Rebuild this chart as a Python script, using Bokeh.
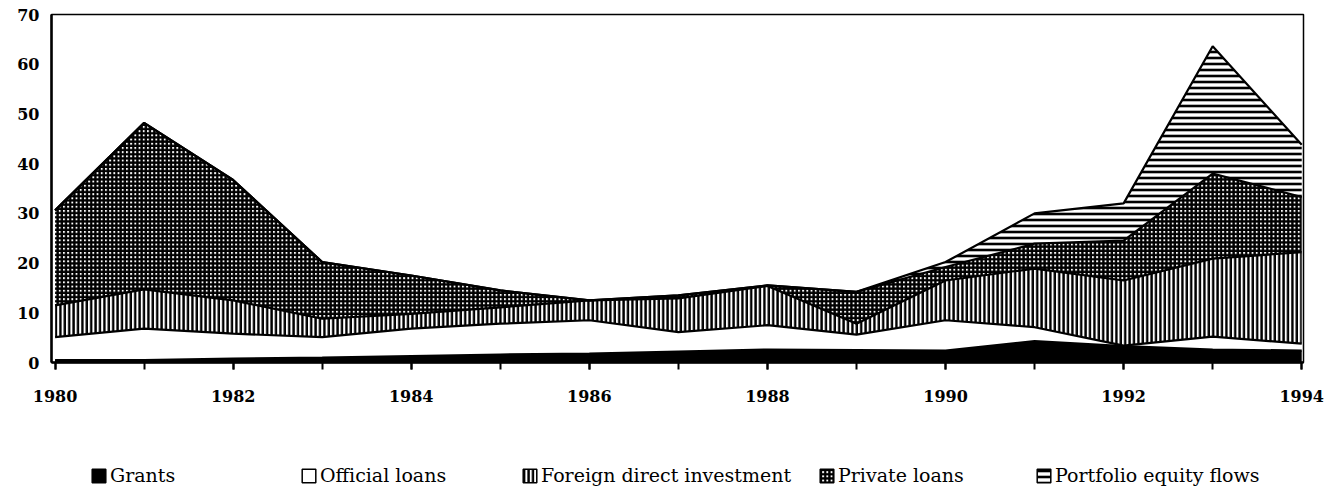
import numpy as np
from bokeh.plotting import figure
from bokeh.models import ColumnDataSource, Legend, LegendItem, FixedTicker, Range1d
from bokeh.layouts import column
from bokeh.transform import stack
from bokeh.embed import file_html
from bokeh.resources import INLINE

years = list(range(1980, 1995))
grants = [0.5, 0.5, 0.8, 1.0, 1.3, 1.6, 1.8, 2.2, 2.6, 2.5, 2.4, 4.3, 3.3, 2.6, 2.4]
official = [4.6, 6.3, 5.0, 4.1, 5.5, 6.2, 6.7, 3.9, 4.9, 3.1, 6.1, 2.8, 0.1, 2.6, 1.4]
fdi = [6.4, 7.9, 6.7, 3.7, 3.0, 3.3, 4.0, 6.8, 7.9, 2.2, 8.0, 11.8, 13.1, 15.7, 18.4]
private = [19.1, 33.5, 24.2, 11.4, 7.7, 3.4, 0.0, 0.6, 0.1, 6.4, 2.7, 5.0, 8.0, 17.1, 11.1]
portfolio = [0, 0, 0, 0, 0, 0, 0, 0, 0, 0, 1.0, 6.1, 7.5, 25.6, 10.5]

series_names = ["Grants", "Official loans", "Foreign direct investment",
                "Private loans", "Portfolio equity flows"]
y_ticks = [0, 10, 20, 30, 40, 50, 60, 70]
x_ticks = [1980, 1982, 1984, 1986, 1988, 1990, 1992, 1994]

keys = ["grants", "official", "fdi", "private", "portfolio"]
src = ColumnDataSource(dict(year=years, grants=grants, official=official,
                            fdi=fdi, private=private, portfolio=portfolio))

BL, BR = 51, 37
p = figure(width=1340, height=430, x_range=Range1d(1979.96, 1994.02), y_range=Range1d(0, 70),
           output_backend="svg", toolbar_location=None,
           min_border_left=BL, min_border_right=BR, min_border_top=14, min_border_bottom=68)

styles = [
    dict(fill_color="black"),
    dict(fill_color="white"),
    dict(fill_color="white", hatch_pattern="vertical_line", hatch_color="black",
         hatch_scale=4.4, hatch_weight=2.4),
    dict(fill_color="white", hatch_pattern="cross", hatch_color="black",
         hatch_scale=4.2, hatch_weight=2.5),
    dict(fill_color="white", hatch_pattern="horizontal_line", hatch_color="black",
         hatch_scale=6, hatch_weight=2.6),
]

for i, k in enumerate(keys):
    y1 = 0 if i == 0 else stack(*keys[:i])
    p.varea(x="year", y1=y1, y2=stack(*keys[:i + 1]), source=src, **styles[i])

for i, k in enumerate(keys):
    p.line(x="year", y=stack(*keys[:i + 1]), source=src, line_color="black", line_width=2.2)

p.grid.visible = False
p.outline_line_color = "black"
p.outline_line_width = 1.5

font = "DejaVu Serif"
p.xaxis.ticker = FixedTicker(ticks=x_ticks, minor_ticks=years)
p.xaxis.major_tick_out = 7
p.xaxis.minor_tick_out = 7
p.xaxis.major_tick_in = 0
p.xaxis.minor_tick_in = 0
p.xaxis.major_tick_line_width = 2
p.xaxis.minor_tick_line_width = 2
p.xaxis.major_tick_line_color = "black"
p.xaxis.minor_tick_line_color = "black"
p.xaxis.axis_line_width = 2.5
p.xaxis.axis_line_color = "black"
p.xaxis.major_label_standoff = 20

p.yaxis.ticker = FixedTicker(ticks=y_ticks)
p.yaxis.major_tick_out = 0
p.yaxis.major_tick_in = 0
p.yaxis.minor_tick_line_color = None
p.yaxis.axis_line_width = 2.5
p.yaxis.axis_line_color = "black"
p.yaxis.major_label_standoff = 12

for ax in (p.xaxis, p.yaxis):
    ax.major_label_text_font = font
    ax.major_label_text_font_style = "bold"
    ax.major_label_text_font_size = "16px"
    ax.major_label_text_color = "black"

# legend strip below the chart
p2 = figure(width=1340, height=60, x_range=Range1d(0, 1), y_range=Range1d(0, 1),
            output_backend="svg", toolbar_location=None,
            min_border_left=BL, min_border_right=BR, min_border_top=0, min_border_bottom=0,
            x_axis_type=None, y_axis_type=None, outline_line_color=None)
p2.grid.visible = False

leg_x = [90, 300, 521, 818, 1035]
nan = np.array([np.nan])
for i, name in enumerate(series_names):
    r = p2.quad(left=nan, right=nan, top=nan, bottom=nan, line_color="black", line_width=1.5,
                **styles[i])
    leg = Legend(items=[LegendItem(label=name, renderers=[r])],
                 location=(leg_x[i] - BL, 4), orientation="horizontal",
                 border_line_alpha=0, background_fill_alpha=0, padding=0, margin=0,
                 glyph_width=17, glyph_height=17, label_standoff=3,
                 label_text_font=font, label_text_font_size="19px",
                 label_text_color="black")
    p2.add_layout(leg, "center")

layout = column(p, p2, spacing=0)
open("out.html", "w").write(file_html(layout, INLINE))
